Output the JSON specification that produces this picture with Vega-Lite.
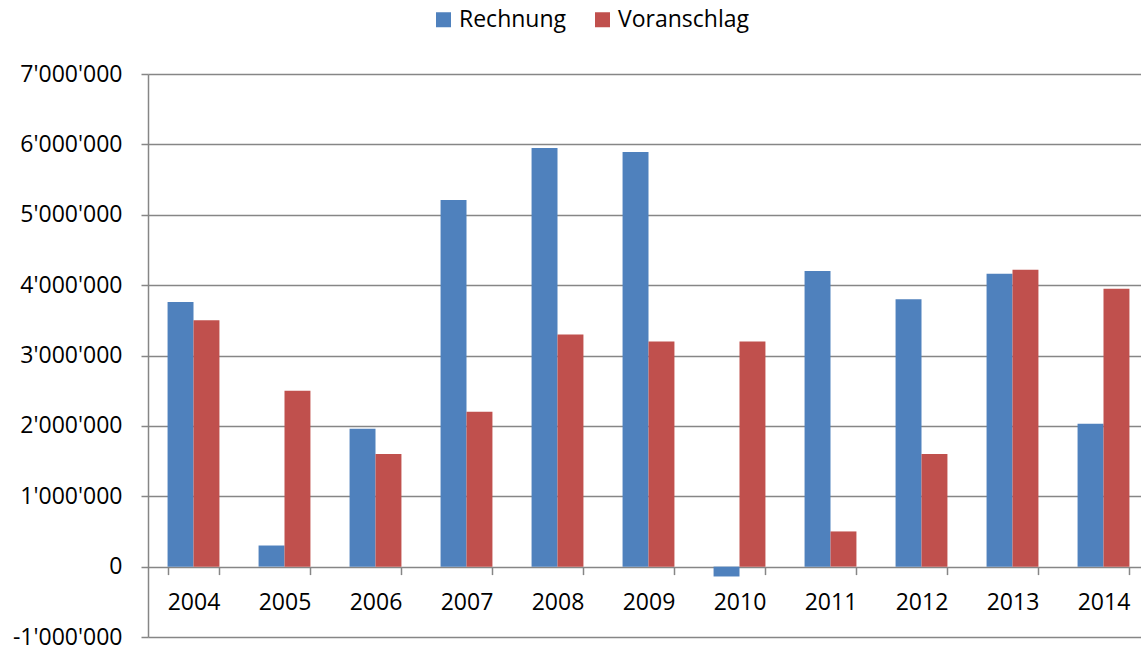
{
  "$schema": "https://vega.github.io/schema/vega-lite/v6.json",
  "autosize": {"type": "none"},
  "padding": {"left": 148, "top": 74, "right": 0, "bottom": 13},
  "width": 1001,
  "height": 563,
  "background": "white",
  "config": {
    "locale": {"number": {"decimal": ".", "thousands": "'", "grouping": [3], "currency": ["", ""], "minus": "-"}},
    "font": "Open Sans",
    "view": {"stroke": null}
  },
  "data": {"values": [
    {"year": "2004", "series": "Rechnung", "value": 3760000},
    {"year": "2004", "series": "Voranschlag", "value": 3500000},
    {"year": "2005", "series": "Rechnung", "value": 300000},
    {"year": "2005", "series": "Voranschlag", "value": 2500000},
    {"year": "2006", "series": "Rechnung", "value": 1960000},
    {"year": "2006", "series": "Voranschlag", "value": 1600000},
    {"year": "2007", "series": "Rechnung", "value": 5210000},
    {"year": "2007", "series": "Voranschlag", "value": 2200000},
    {"year": "2008", "series": "Rechnung", "value": 5950000},
    {"year": "2008", "series": "Voranschlag", "value": 3300000},
    {"year": "2009", "series": "Rechnung", "value": 5890000},
    {"year": "2009", "series": "Voranschlag", "value": 3200000},
    {"year": "2010", "series": "Rechnung", "value": -140000},
    {"year": "2010", "series": "Voranschlag", "value": 3200000},
    {"year": "2011", "series": "Rechnung", "value": 4200000},
    {"year": "2011", "series": "Voranschlag", "value": 500000},
    {"year": "2012", "series": "Rechnung", "value": 3800000},
    {"year": "2012", "series": "Voranschlag", "value": 1600000},
    {"year": "2013", "series": "Rechnung", "value": 4160000},
    {"year": "2013", "series": "Voranschlag", "value": 4220000},
    {"year": "2014", "series": "Rechnung", "value": 2030000},
    {"year": "2014", "series": "Voranschlag", "value": 3950000}
  ]},
  "mark": {"type": "bar"},
  "encoding": {
    "x": {
      "field": "year", "type": "ordinal",
      "scale": {"paddingInner": 0.43, "paddingOuter": 0.215},
      "axis": {
        "title": null, "orient": "bottom", "offset": -70.4,
        "domain": false, "grid": false,
        "tickBand": "extent", "tickSize": 8, "tickColor": "#868686", "tickWidth": 1.5,
        "labelAngle": 0, "labelFontSize": 23, "labelColor": "#000000", "labelPadding": 17,
        "labelFont": "Open Sans"
      }
    },
    "xOffset": {"field": "series", "type": "nominal", "scale": {"paddingInner": 0, "paddingOuter": 0}},
    "y": {
      "field": "value", "type": "quantitative",
      "scale": {"domain": [-1000000, 7000000], "nice": false, "zero": false},
      "axis": {
        "title": null, "values": [-1000000, 0, 1000000, 2000000, 3000000, 4000000, 5000000, 6000000, 7000000],
        "format": ",d", "grid": true, "gridColor": "#868686", "gridWidth": 1.5,
        "domain": true, "domainColor": "#868686", "domainWidth": 1.5,
        "tickSize": 7, "tickColor": "#868686", "tickWidth": 1.5,
        "labelFontSize": 23, "labelColor": "#000000", "labelPadding": 19, "labelFont": "Open Sans"
      }
    },
    "color": {
      "field": "series", "type": "nominal",
      "scale": {"domain": ["Rechnung", "Voranschlag"], "range": ["#4F81BD", "#C0504D"]},
      "legend": {
        "title": null, "orient": "none", "legendX": 284, "legendY": -66, "direction": "horizontal",
        "symbolType": "square", "symbolSize": 225, "symbolStrokeWidth": 0,
        "labelFontSize": 23, "labelColor": "#000000", "labelFont": "Open Sans",
        "labelOffset": 4, "columnPadding": 24
      }
    }
  }
}
